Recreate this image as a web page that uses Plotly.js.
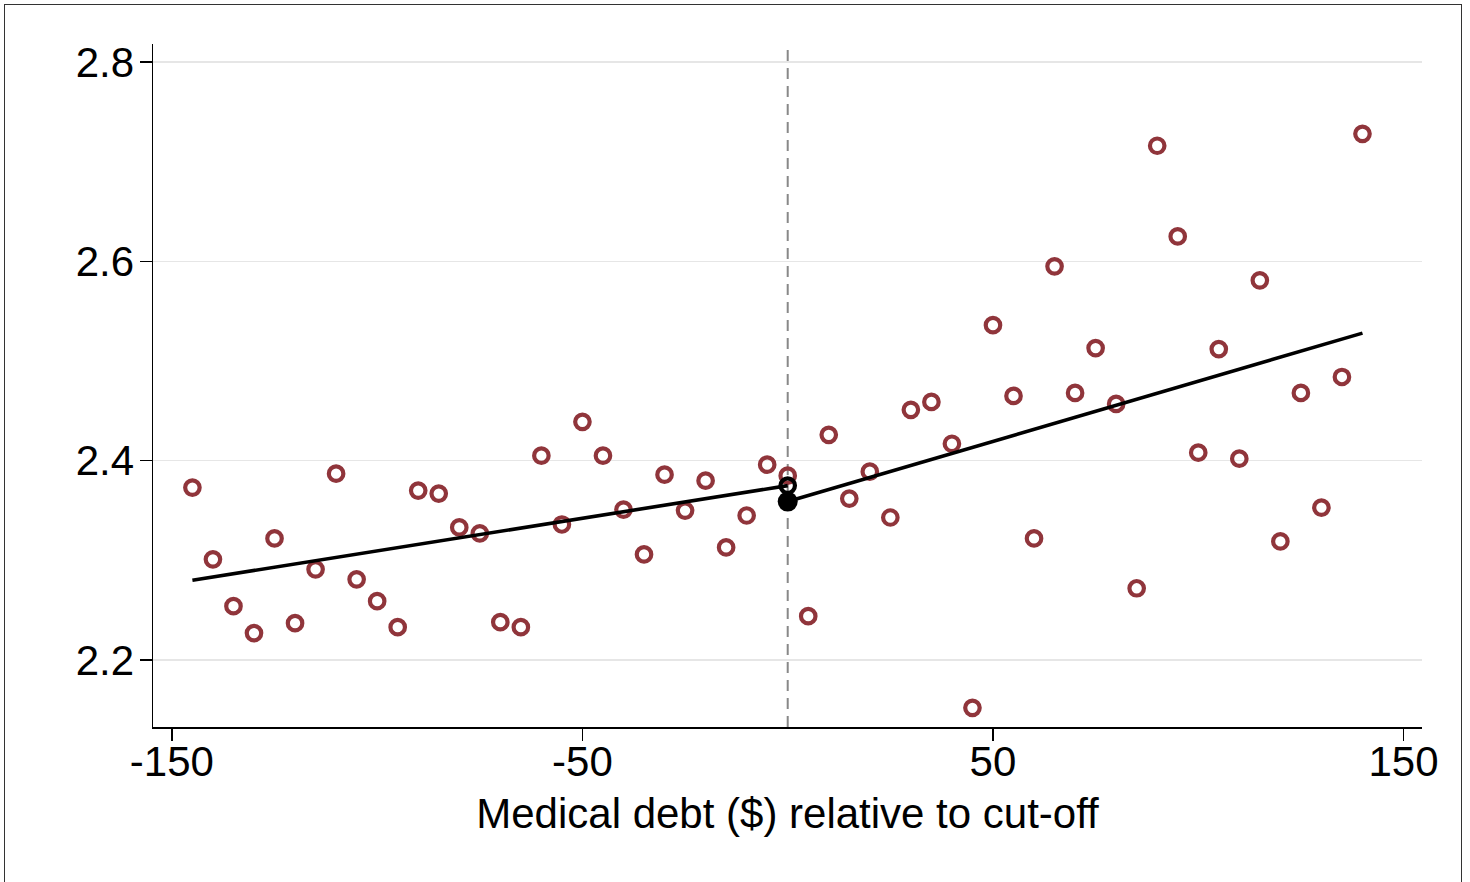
<!DOCTYPE html>
<html>
<head>
<meta charset="utf-8">
<script src="https://cdn.plot.ly/plotly-3.0.1.min.js"></script>
<style>
  html, body { margin: 0; padding: 0; background: #fff; overflow: hidden; }
  #chart { position: absolute; left: 0; top: 0; width: 1470px; height: 882px; }
  #frame { position: absolute; left: 4px; top: 4px; width: 1456px; height: 900px;
           border: 1px solid #333; pointer-events: none; }
</style>
</head>
<body>
<div id="chart"></div>
<div id="frame"></div>
<script>
// Binned means, left of cut-off
const xLeft = [-145, -140, -135, -130, -125, -120, -115, -110, -105, -100,
               -95, -90, -85, -80, -75, -70, -65, -60, -55, -50,
               -45, -40, -35, -30, -25, -20, -15, -10, -5, 0];
const yLeft = [2.373, 2.301, 2.254, 2.227, 2.322, 2.237, 2.291, 2.387, 2.281, 2.259,
               2.233, 2.370, 2.367, 2.333, 2.327, 2.238, 2.233, 2.405, 2.336, 2.439,
               2.405, 2.351, 2.306, 2.386, 2.350, 2.380, 2.313, 2.345, 2.396, 2.385];
// Binned means, right of cut-off
const xRight = [5, 10, 15, 20, 25, 30, 35, 40, 45, 50,
                55, 60, 65, 70, 75, 80, 85, 90, 95, 100,
                105, 110, 115, 120, 125, 130, 135, 140];
const yRight = [2.244, 2.426, 2.362, 2.389, 2.343, 2.451, 2.459, 2.417, 2.152, 2.536,
                2.465, 2.322, 2.595, 2.468, 2.513, 2.457, 2.272, 2.716, 2.625, 2.408,
                2.512, 2.402, 2.581, 2.319, 2.468, 2.353, 2.484, 2.728];
// Linear fits on each side
const fitLeftX = [-145, 0];
const fitLeftY = [2.280, 2.375];
const fitRightX = [0, 140];
const fitRightY = [2.359, 2.528];
// Fitted values at the cut-off
const cutX = [0];
const cutLeftY = [2.375];
const cutRightY = [2.359];
// Axis ticks
const xTicks = [-150, -50, 50, 150];
const xTickLabels = ['-150', '-50', '50', '150'];
const yTicks = [2.2, 2.4, 2.6, 2.8];
const yTickLabels = ['2.2', '2.4', '2.6', '2.8'];

const red = '#90353B';
const fontFam = 'Arial, "Liberation Sans", Helvetica, sans-serif';

const traces = [
  { x: xLeft.concat(xRight), y: yLeft.concat(yRight), type: 'scatter', mode: 'markers',
    marker: { symbol: 'circle-open', size: 14.5, color: red, line: { width: 4.2, color: red } } },
  { x: fitLeftX, y: fitLeftY, type: 'scatter', mode: 'lines',
    line: { color: '#000', width: 3.6 } },
  { x: fitRightX, y: fitRightY, type: 'scatter', mode: 'lines',
    line: { color: '#000', width: 3.6 } },
  { x: cutX, y: cutLeftY, type: 'scatter', mode: 'markers',
    marker: { symbol: 'circle-open', size: 14.5, color: '#000', line: { width: 4.2, color: '#000' } } },
  { x: cutX, y: cutRightY, type: 'scatter', mode: 'markers',
    marker: { symbol: 'circle', size: 20, color: '#000' } }
];

const layout = {
  width: 1470, height: 882,
  margin: { l: 153, r: 48, t: 44, b: 155, pad: 0 },
  paper_bgcolor: '#fff', plot_bgcolor: '#fff',
  showlegend: false,
  font: { family: fontFam, color: '#000', size: 42 },
  xaxis: {
    range: [-154.6, 154.5],
    tickmode: 'array', tickvals: xTicks, ticktext: xTickLabels,
    ticks: 'outside', ticklen: 12, tickwidth: 1.5, tickcolor: '#000',
    ticklabelstandoff: -15,
    showline: true, linecolor: '#000', linewidth: 1.5,
    showgrid: false, zeroline: false,
    tickfont: { family: fontFam, size: 42, color: '#000' },
    title: { text: 'Medical debt ($) relative to cut-off', font: { family: fontFam, size: 42, color: '#000' }, standoff: 14 }
  },
  yaxis: {
    range: [2.1328, 2.8181],
    tickmode: 'array', tickvals: yTicks, ticktext: yTickLabels,
    ticks: 'outside', ticklen: 12, tickwidth: 1.5, tickcolor: '#000',
    ticklabelstandoff: -3,
    showline: true, linecolor: '#000', linewidth: 1.5,
    showgrid: true, gridcolor: '#e6e6e6', gridwidth: 1.5, zeroline: false,
    tickfont: { family: fontFam, size: 42, color: '#000' }
  },
  shapes: [
    { type: 'line', xref: 'x', yref: 'paper', x0: 0, x1: 0, y0: 0, y1: 1,
      line: { color: '#888', width: 2, dash: '11px,7px' }, layer: 'between' }
  ]
};

Plotly.newPlot('chart', traces, layout, { displayModeBar: false, staticPlot: true });
</script>
</body>
</html>
